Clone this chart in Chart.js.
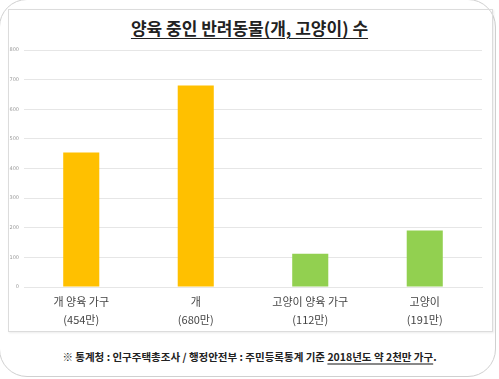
<!DOCTYPE html>
<html><head><meta charset="utf-8">
<script src="https://cdn.jsdelivr.net/npm/chart.js@4"></script>
<style>
html,body{margin:0;padding:0;background:#fff;}
body{width:499px;height:379px;position:relative;overflow:hidden;font-family:"Noto Sans CJK KR","Noto Sans",sans-serif;}
#outer{position:absolute;left:-1px;top:-1px;width:497px;height:378px;border:1px solid #d0d0d0;border-radius:28px;box-sizing:border-box;}
#frame{position:absolute;left:8px;top:9px;width:485px;height:323px;border:1px solid #dcdcdc;box-sizing:border-box;box-shadow:1px 1px 2px rgba(0,0,0,0.08);}
#title{position:absolute;left:0;top:15px;width:499px;text-align:center;font-size:17px;font-weight:700;color:#222;text-decoration:underline;text-underline-offset:3px;letter-spacing:0px;}
#foot{position:absolute;left:0;top:349px;width:499px;text-align:center;font-size:10.5px;font-weight:700;color:#222;}
#foot u{text-decoration-color:#888;text-decoration-thickness:2px;text-underline-offset:2px;}
#c{position:absolute;left:0;top:0;}
</style></head>
<body>
<div id="outer"></div>
<div id="frame"></div>
<div id="title">양육 중인 반려동물(개, 고양이) 수</div>
<div id="foot">※ 통계청 : 인구주택총조사 / 행정안전부 : 주민등록통계 기준 <u>2018년도 약 2천만 가구</u>.</div>
<canvas id="c" width="499" height="379"></canvas>
<script>
const categories = ["개 양육 가구", "개", "고양이 양육 가구", "고양이"];
const valueLabels = ["(454만)", "(680만)", "(112만)", "(191만)"];
const values = [454, 680, 112, 191];
const barColors = ["#FFC000", "#FFC000", "#92D050", "#92D050"];
const yTicks = [0, 100, 200, 300, 400, 500, 600, 700, 800];

new Chart(document.getElementById('c'), {
  type: 'bar',
  data: {
    labels: categories.map((c, i) => [c, valueLabels[i]]),
    datasets: [{ data: values, backgroundColor: barColors, borderWidth: 0,
      categoryPercentage: 0.315, barPercentage: 1 }]
  },
  options: {
    responsive: false, animation: false,
    layout: { padding: { left: 0, right: 17, top: 50, bottom: 42 } },
    plugins: { legend: { display: false }, tooltip: { enabled: false } },
    scales: {
      x: {
        afterFit: s => { s.height = 50; },
        grid: { display: false, drawTicks: false },
        border: { display: true, color: '#e6e6e6', width: 1 },
        ticks: { padding: 5, color: '#444', font: { size: 11, family: '"Noto Sans CJK KR"', lineHeight: 1.7 } }
      },
      y: {
        min: 0, max: 800,
        afterFit: s => { s.width = 24; },
        afterBuildTicks: s => { s.ticks = yTicks.map(v => ({ value: v })); },
        grid: { color: '#e6e6e6', drawTicks: false },
        border: { display: false },
        ticks: { padding: 5, color: '#999', font: { size: 5, family: 'DejaVu Sans' } }
      }
    }
  }
});
</script>
</body></html>
